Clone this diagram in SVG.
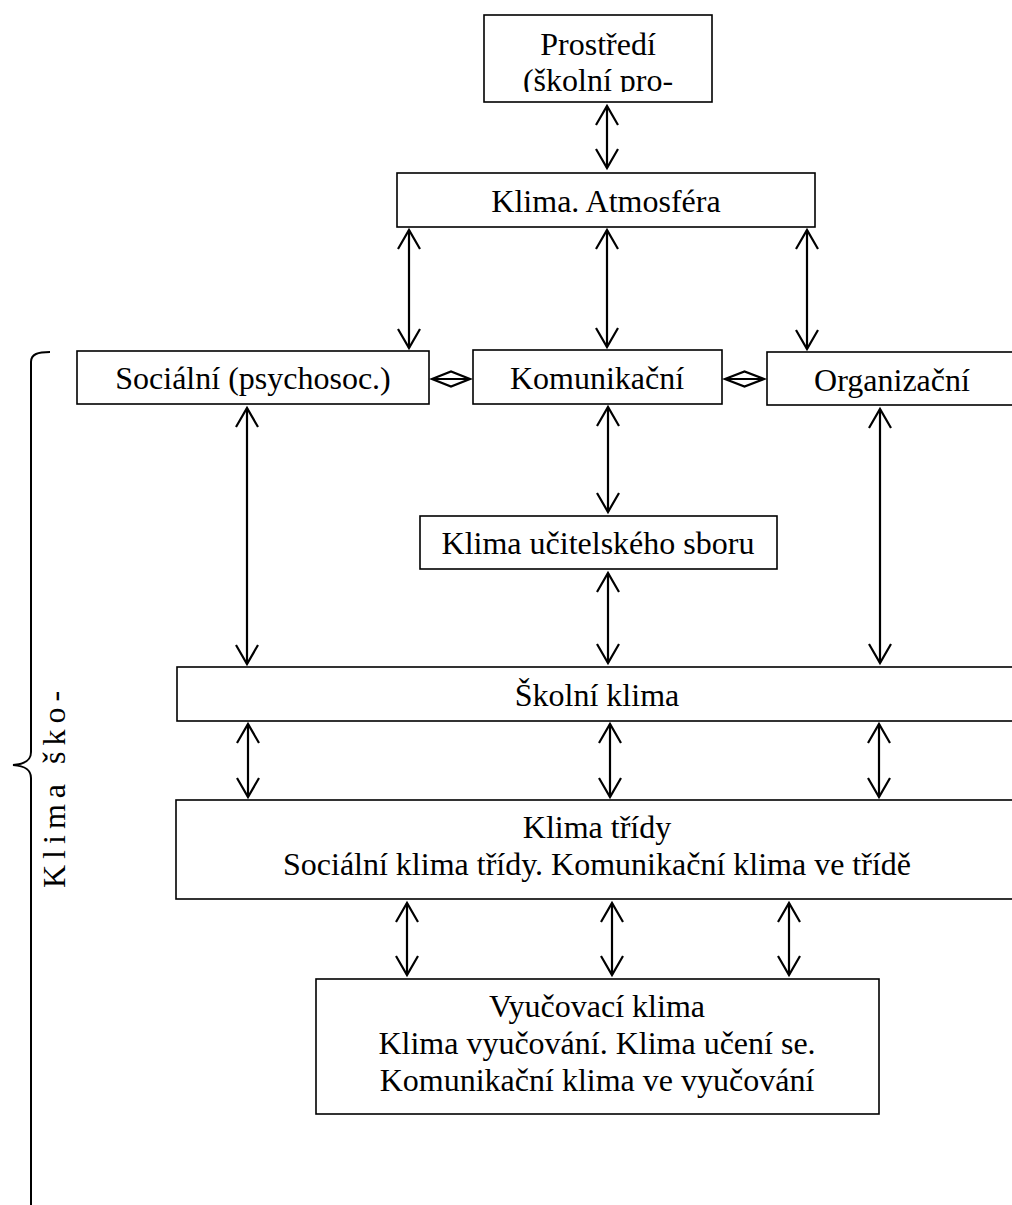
<svg xmlns="http://www.w3.org/2000/svg" width="1012" height="1205" viewBox="0 0 1012 1205">
<style>
.box{fill:#fff;stroke:#000;stroke-width:1.6}
.t{font-family:"Liberation Serif","Times New Roman",serif;font-size:32px;fill:#000;text-anchor:middle}
.arr{stroke:#000;stroke-width:2.2;fill:none;marker-start:url(#ah);marker-end:url(#ah)}
.dia{stroke:#000;stroke-width:2.2;fill:none}
</style>
<defs>
<marker id="ah" markerUnits="userSpaceOnUse" viewBox="-22 -14 26 28" markerWidth="26" markerHeight="28" refX="0" refY="0" orient="auto-start-reverse">
<path d="M-19,-11 L0,0 L-19,11" fill="none" stroke="#000" stroke-width="2.2"/>
</marker>
<clipPath id="clipTop"><rect x="484" y="15" width="228" height="77"/></clipPath>
</defs>
<rect width="1012" height="1205" fill="#fff"/>

<g id="prostredi">
<rect class="box" x="484" y="15" width="228" height="87"/>
<g clip-path="url(#clipTop)">
<text class="t" x="598" y="55">Prostředí</text>
<text class="t" x="598" y="91">(školní pro-</text>
</g>
</g>

<g id="klima-atmosfera">
<rect class="box" x="397" y="173" width="418" height="54"/>
<text class="t" x="606" y="212">Klima. Atmosféra</text>
</g>

<g id="socialni">
<rect class="box" x="77" y="351" width="352" height="53"/>
<text class="t" x="253" y="389">Sociální (psychosoc.)</text>
</g>

<g id="komunikacni">
<rect class="box" x="473" y="350" width="249" height="54"/>
<text class="t" x="597" y="389">Komunikační</text>
</g>

<g id="organizacni">
<rect class="box" x="767" y="352" width="260" height="53"/>
<text class="t" x="892" y="391">Organizační</text>
</g>

<g id="klima-sboru">
<rect class="box" x="420" y="516" width="357" height="53"/>
<text class="t" x="598" y="554">Klima učitelského sboru</text>
</g>

<g id="skolni-klima">
<rect class="box" x="177" y="667" width="850" height="54"/>
<text class="t" x="597" y="706">Školní klima</text>
</g>

<g id="klima-tridy">
<rect class="box" x="176" y="800" width="851" height="99"/>
<text class="t" x="597" y="838">Klima třídy</text>
<text class="t" x="597" y="875">Sociální klima třídy. Komunikační klima ve třídě</text>
</g>

<g id="vyucovaci-klima">
<rect class="box" x="316" y="979" width="563" height="135"/>
<text class="t" x="597" y="1017">Vyučovací klima</text>
<text class="t" x="597" y="1054">Klima vyučování. Klima učení se.</text>
<text class="t" x="597" y="1091">Komunikační klima ve vyučování</text>
</g>

<g id="brace-label">
<path d="M50,352 C38,352 31,354 31,362 L31,752 C31,760 26,764 13,765 C26,766 31,770 31,778 L31,1210" fill="none" stroke="#000" stroke-width="2"/>
<text class="t" style="text-anchor:start" letter-spacing="6" transform="translate(65,888) rotate(-90)">Klima ško-</text>
</g>

<g id="connectors">
<line class="arr" x1="607" y1="106" x2="607" y2="168"/>
<line class="arr" x1="409" y1="230" x2="409" y2="348"/>
<line class="arr" x1="607" y1="230" x2="607" y2="347"/>
<line class="arr" x1="807" y1="230" x2="807" y2="349"/>
<line class="arr" x1="247" y1="408" x2="247" y2="664"/>
<line class="arr" x1="608" y1="407" x2="608" y2="512"/>
<line class="arr" x1="608" y1="573" x2="608" y2="663"/>
<line class="arr" x1="880" y1="409" x2="880" y2="663"/>
<line class="arr" x1="248" y1="724" x2="248" y2="797"/>
<line class="arr" x1="610" y1="724" x2="610" y2="797"/>
<line class="arr" x1="879" y1="724" x2="879" y2="797"/>
<line class="arr" x1="407" y1="903" x2="407" y2="975"/>
<line class="arr" x1="612" y1="903" x2="612" y2="975"/>
<line class="arr" x1="789" y1="903" x2="789" y2="975"/>
<g id="dia-left">
<polygon class="dia" points="432,379 451,371.5 470,379 451,386.5"/>
<line class="dia" x1="432" y1="379" x2="470" y2="379"/>
</g>
<g id="dia-right">
<polygon class="dia" points="725,379 744.5,371.5 764,379 744.5,386.5"/>
<line class="dia" x1="725" y1="379" x2="764" y2="379"/>
</g>
</g>
</svg>
